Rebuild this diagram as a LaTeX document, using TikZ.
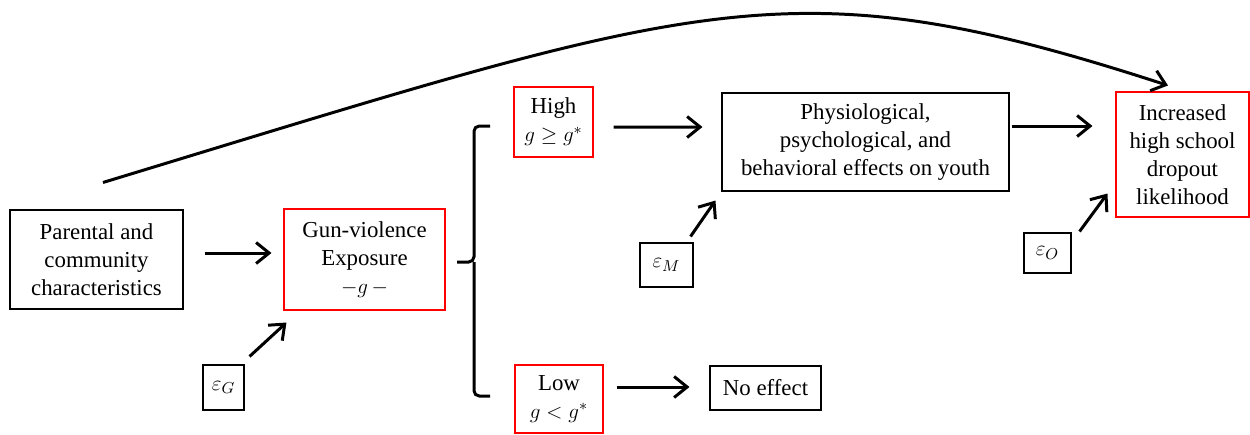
\documentclass[tikz,border=0pt]{standalone}
\usepackage{fontspec}
\setmainfont{Liberation Serif}
\usetikzlibrary{arrows.meta}

\begin{document}
\begin{tikzpicture}[font=\fontsize{13}{15.9}\selectfont, >={Straight Barb[length=2.6mm,width=4.2mm]}, line width=1.7pt]
    \tikzstyle{block}=[draw=black, line width=0.6pt, align=center, inner sep=2pt]
    \tikzstyle{redblock}=[draw=red, line width=0.6pt, align=center, inner sep=2pt]
    \useasboundingbox (0,0) rectangle (25,-8.68);
    \node[block, minimum width=3.46cm, minimum height=1.98cm] (parent) at (1.93,-5.19) {Parental and\\community\\characteristics};
    \node[redblock, minimum width=3.22cm, minimum height=2.02cm] (gun) at (7.29,-5.19) {Gun-violence\\Exposure\\$-g\,-$};
    \node[block, minimum width=0.82cm, minimum height=0.9cm] (epsg) at (4.47,-7.75) {$\varepsilon_G$};
    \node[redblock, minimum width=1.58cm, minimum height=1.4cm] (high) at (11.07,-2.44) {High\\$g \geq g^{*}$};
    \node[redblock, minimum width=1.76cm, minimum height=1.36cm] (low) at (11.18,-7.98) {Low\\$g < g^{*}$};
    \node[block, minimum width=5.74cm, minimum height=1.96cm] (effects) at (17.31,-2.84) {Physiological,\\psychological, and\\behavioral effects on youth};
    \node[block, minimum width=1.06cm, minimum height=0.88cm] (epsm) at (13.33,-5.3) {$\varepsilon_M$};
    \node[block, minimum width=2.22cm, minimum height=0.88cm] (noeff) at (15.31,-7.76) {No effect};
    \node[redblock, minimum width=2.66cm, minimum height=2.5cm] (dropout) at (23.65,-3.09) {Increased\\high school\\dropout\\likelihood};
    \node[block, minimum width=0.94cm, minimum height=0.8cm] (epso) at (20.95,-5.06) {$\varepsilon_O$};
    % bracket splitting exposure into high / low
    \coordinate (bmid) at (9.48,-5.24);
    \draw[rounded corners=3pt] (9.8,-2.52) -- (9.48,-2.52) -- (bmid) -- (9.14,-5.24);
    \draw[rounded corners=3pt] (bmid) -- (9.48,-7.92) -- (9.8,-7.92);
    \draw[->] ([shift={(0.42,0.13)}]parent.east) -- ([shift={(-0.24,0.13)}]gun.west);
    \draw[->] ([shift={(0.1,0.16)}]epsg.north east) -- ([shift={(0.06,-0.24)}]gun.south west);
    \draw[->] ([shift={(0.4,-0.1)}]high.east) -- ([shift={(-0.38,0.3)}]effects.west);
    \draw[->] ([shift={(-0.06,0.12)}]epsm.north east) -- ([shift={(-0.12,-0.18)}]effects.south west);
    \draw[->] ([shift={(0.04,0.32)}]effects.east) -- ([shift={(-0.46,0.57)}]dropout.west);
    \draw[->] ([shift={(0.16,0.02)}]epso.north east) -- ([shift={(-0.16,0.48)}]dropout.south west);
    \draw[->] ([shift={(0.26,0.24)}]low.east) -- ([shift={(-0.4,0.02)}]noeff.west);
    \draw[->] ([shift={(0.13,0.54)}]parent.north) .. controls (14.06,0) and (15.76,0.76) .. ([shift={(-0.29,0.12)}]dropout.north);
  \end{tikzpicture}
\end{document}
